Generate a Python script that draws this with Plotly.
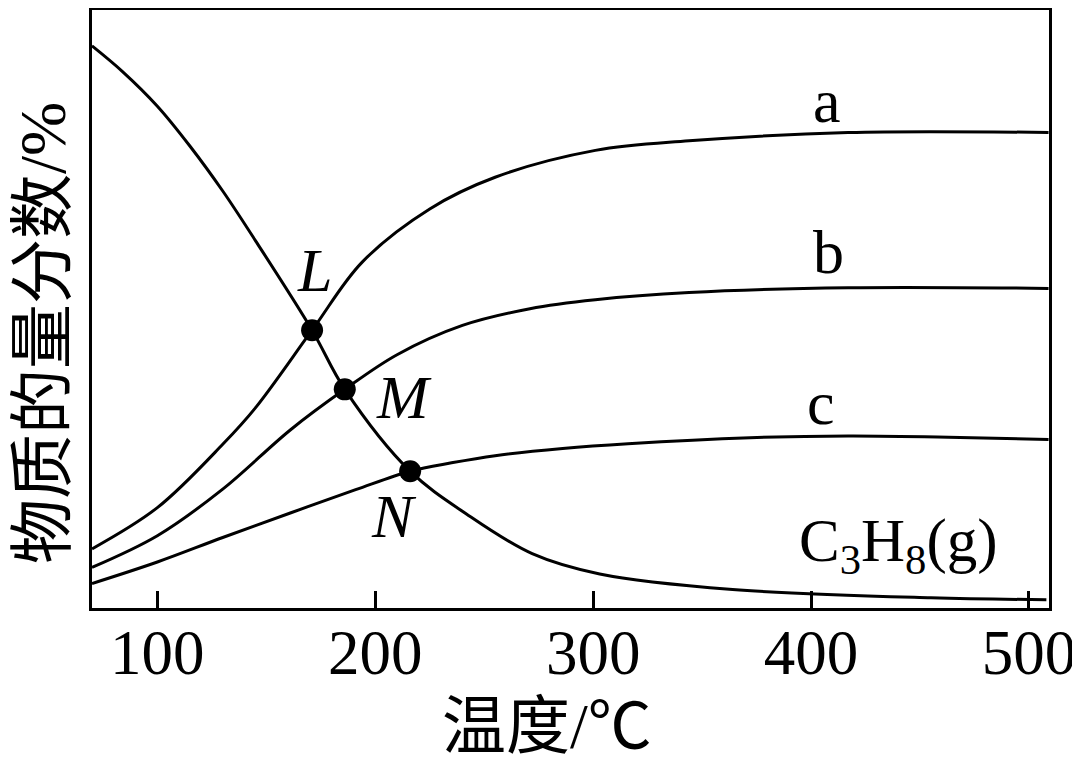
import plotly.graph_objects as go

# Temperature (°C) and mole fraction (arbitrary %, no y tick labels)
c3h8_T = [70, 84, 100, 115, 130, 145, 171, 186, 216, 242, 272, 303, 364, 455, 508]
c3h8_y = [94.1, 89.8, 84.0, 77.3, 69.8, 61.5, 46.5, 36.6, 22.9, 15.7, 9.1, 5.7, 3.1, 1.7, 1.4]

a_T = [70, 100, 130, 145, 171, 194, 225, 255, 301, 344, 417, 509]
a_y = [9.9, 16.8, 27.4, 33.5, 46.5, 57.9, 66.8, 72.1, 76.6, 78.2, 79.6, 79.6]

b_T = [70, 100, 130, 161, 186, 210, 240, 271, 301, 344, 417, 509]
b_y = [6.8, 12.1, 19.9, 29.8, 36.6, 42.4, 47.3, 50.1, 51.6, 52.8, 53.6, 53.5]

c_T = [70, 100, 130, 161, 191, 216, 235, 255, 286, 316, 372, 417, 463, 509]
c_y = [4.1, 7.7, 11.8, 15.9, 19.8, 22.9, 24.3, 25.5, 26.7, 27.5, 28.5, 28.8, 28.6, 28.2]

pt_names = ["L", "M", "N"]
pt_T = [171, 186, 216]
pt_y = [46.5, 36.6, 22.9]

x_ticks = [100, 200, 300, 400, 500]

line_style = dict(color="black", width=3, shape="spline", smoothing=1.0)

fig = go.Figure()
for T, y in [(c3h8_T, c3h8_y), (a_T, a_y), (b_T, b_y), (c_T, c_y)]:
    fig.add_trace(go.Scatter(x=T, y=y, mode="lines", line=line_style,
                             showlegend=False, hoverinfo="skip"))

fig.add_trace(go.Scatter(x=pt_T, y=pt_y, mode="markers",
                         marker=dict(color="black", size=22),
                         showlegend=False, hoverinfo="skip"))

serif = "Liberation Serif, Times New Roman, Noto Sans CJK SC, serif"

labels = [
    ("a", 407.3, 84.8, False),
    ("b", 408.2, 59.6, False),
    ("c", 404.5, 34.3, False),
    ("L", 172.1, 56.6, True),
    ("M", 213.4, 35.4, True),
    ("N", 208.8, 15.4, True),
]
for txt, x, y, ital in labels:
    fig.add_annotation(x=x, y=y, xref="x", yref="y",
                       text=f"<i>{txt}</i>" if ital else txt,
                       xanchor="center", yanchor="middle",
                       showarrow=False, font=dict(family=serif, size=62, color="black"))

fig.add_annotation(x=440.3, y=10.5, xref="x", yref="y",
                   text="C<sub>3</sub>H<sub>8</sub>(g)", showarrow=False,
                   xanchor="center", yanchor="middle",
                   font=dict(family=serif, size=61, color="black"))

# axis titles
fig.add_annotation(x=0.475, y=-0.198, xref="paper", yref="paper",
                   text="温度/℃", showarrow=False, xanchor="center", yanchor="middle",
                   font=dict(family=serif, size=64, color="black"))
fig.add_annotation(x=-0.051, y=0.46, xref="paper", yref="paper",
                   text="物质的量分数/%", showarrow=False, textangle=-90,
                   xanchor="center", yanchor="middle", borderpad=0,
                   font=dict(family=serif, size=65, color="black"))

fig.update_xaxes(range=[70, 509.2], tickvals=x_ticks, ticks="inside", ticklen=17,
                 tickwidth=2.5, tickcolor="black", showline=True, linecolor="black",
                 linewidth=3, mirror=True, showgrid=False, zeroline=False,
                 automargin=False, ticklabelstandoff=-13,
                 tickfont=dict(family=serif, size=63, color="black"))
fig.update_yaxes(range=[0, 100.1], showticklabels=False, ticks="", showline=True,
                 linecolor="black", linewidth=3, mirror=True, showgrid=False,
                 zeroline=False, automargin=False)

fig.update_layout(width=1072, height=754, plot_bgcolor="white", paper_bgcolor="white",
                  margin=dict(l=84, r=31, t=2, b=154, autoexpand=False))

fig.write_html("out.html")
